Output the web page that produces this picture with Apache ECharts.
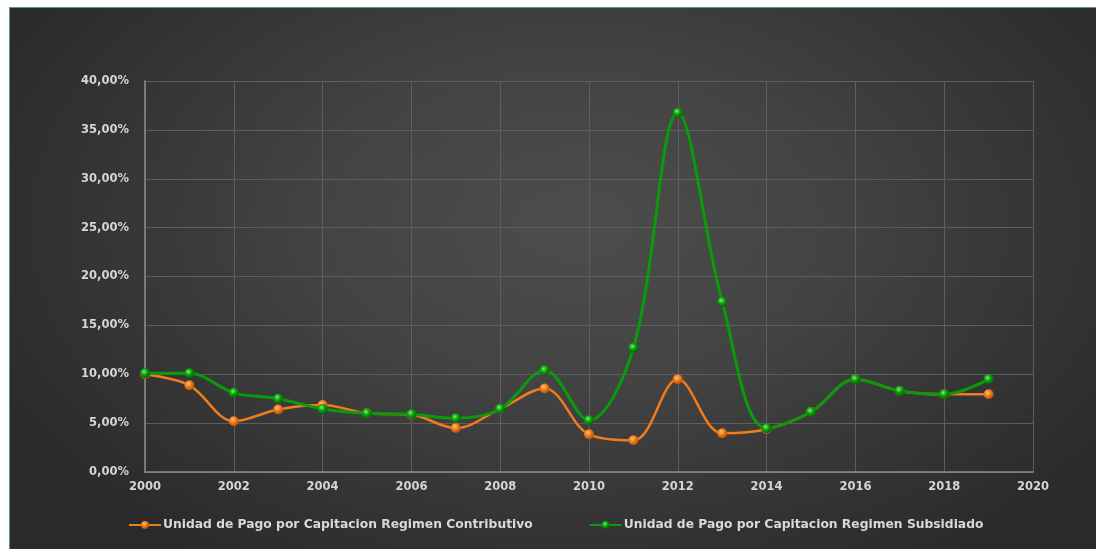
<!DOCTYPE html>
<html>
<head>
<meta charset="utf-8">
<script src="https://cdn.jsdelivr.net/npm/echarts@6/dist/echarts.min.js"></script>
<style>
  html, body { margin: 0; padding: 0; background: #ffffff; width: 1096px; height: 549px; overflow: hidden; }
  #frame {
    position: absolute; left: 9px; top: 7px; width: 1087px; height: 542px;
    box-sizing: border-box; border: 1px solid #5f8fa2; border-right: none; border-bottom: none;
    background: radial-gradient(ellipse 60% 75% at 52% 40%, #4d4d4d 0%, #434343 40%, #343434 75%, #2a2a2a 100%);
  }
  #chart { position: absolute; left: 1px; top: 1px; width: 1086px; height: 541px; }
</style>
</head>
<body>
<div id="frame"><div id="chart"></div></div>
<script>
// Years on the horizontal value axis
const years = [2000, 2001, 2002, 2003, 2004, 2005, 2006, 2007, 2008, 2009,
               2010, 2011, 2012, 2013, 2014, 2015, 2016, 2017, 2018, 2019];

// Annual increase of the UPC, in percent
const contributivo = [10.0, 8.87, 5.2, 6.4, 6.85, 6.0, 5.85, 4.5, 6.45, 8.55,
                      3.85, 3.24, 9.48, 3.96, 4.37, 6.14, 9.48, 8.29, 7.95, 7.95];
const subsidiado   = [10.1, 10.1, 8.1, 7.5, 6.45, 6.0, 5.9, 5.5, 6.45, 10.4,
                      5.3, 12.7, 36.75, 17.4, 4.47, 6.14, 9.48, 8.29, 7.95, 9.48];

const seriesNames = [
  'Unidad de Pago por Capitacion Regimen Contributivo',
  'Unidad de Pago por Capitacion Regimen Subsidiado'
];

// Shaded bead used for the point markers
function ball(light, base, dark) {
  return {
    type: 'radial', x: 0.4, y: 0.35, r: 0.7,
    colorStops: [
      { offset: 0, color: light },
      { offset: 0.45, color: base },
      { offset: 1, color: dark }
    ]
  };
}

const toPoints = vals => vals.map((v, i) => [years[i], v]);
const labelFont = { color: '#d6d6d6', fontFamily: 'DejaVu Sans', fontWeight: 'bold', fontSize: 11.5 };

const chart = echarts.init(document.getElementById('chart'), null, { renderer: 'canvas' });
chart.setOption({
  backgroundColor: 'transparent',
  animation: false,
  grid: { left: 134, top: 72, width: 888, height: 391, containLabel: false },
  xAxis: {
    type: 'value', min: 2000, max: 2020, interval: 2,
    axisLine: { show: true, lineStyle: { color: '#8c8c8c', width: 1.5 } },
    axisTick: { show: false },
    splitLine: { show: true, lineStyle: { color: '#5e5e5e', width: 1 } },
    axisLabel: Object.assign({ margin: 9, formatter: v => String(v) }, labelFont)
  },
  yAxis: {
    type: 'value', min: 0, max: 40, interval: 5,
    axisLine: { show: true, lineStyle: { color: '#8c8c8c', width: 1.5 } },
    axisTick: { show: false },
    splitLine: { show: true, lineStyle: { color: '#5e5e5e', width: 1 } },
    axisLabel: Object.assign({ margin: 16, formatter: v => v.toFixed(2).replace('.', ',') + '%' }, labelFont)
  },
  legend: {
    left: 112, top: 505, itemGap: 56, itemWidth: 32, itemHeight: 10,
    textStyle: { color: '#d9d9d9', fontFamily: 'DejaVu Sans', fontWeight: 'bold', fontSize: 12.3, padding: [0, 0, 0, -3] },
    data: seriesNames
  },
  series: [
    {
      name: seriesNames[0], type: 'line', smooth: 0.35,
      data: toPoints(contributivo),
      symbol: 'circle', symbolSize: 10, z: 2,
      lineStyle: { color: '#f07c1c', width: 2.5 },
      itemStyle: { color: ball('#ffc27a', '#f07c1c', '#a84b06') }
    },
    {
      name: seriesNames[1], type: 'line', smooth: 0.35,
      data: toPoints(subsidiado),
      symbol: 'circle', symbolSize: 10, z: 3,
      lineStyle: { color: '#0a9b0a', width: 3 },
      itemStyle: { color: ball('#7cf07c', '#0aa00a', '#045c04') }
    }
  ]
});
</script>
</body>
</html>
